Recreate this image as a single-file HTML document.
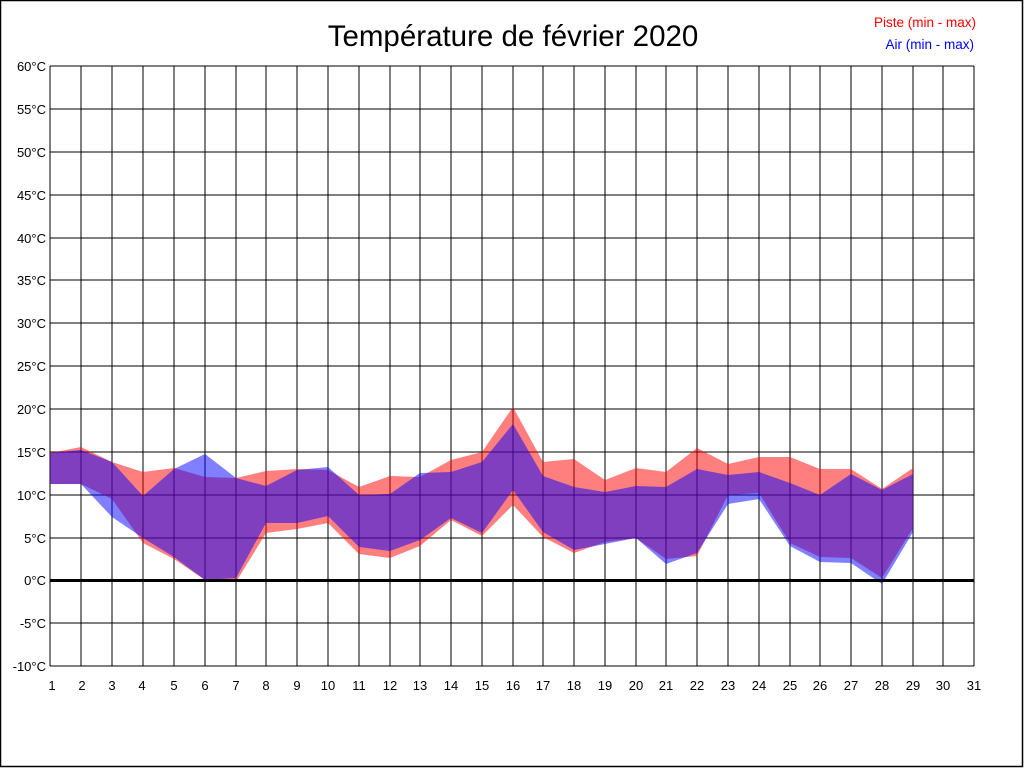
<!DOCTYPE html>
<html><head><meta charset="utf-8"><style>
html,body{margin:0;padding:0;background:#fff;}
svg{display:block;font-family:"Liberation Sans",Arial,sans-serif;}
</style></head><body>
<svg width="1024" height="768" viewBox="0 0 1024 768" xmlns="http://www.w3.org/2000/svg">
<rect x="0.5" y="0.5" width="1022" height="766" fill="#fff" stroke="#000" stroke-width="1.5"/>
<text x="513" y="46" font-size="29.5" text-anchor="middle" fill="#000">Température de février 2020</text>
<text x="976" y="27" font-size="13.5" text-anchor="end" fill="#f00">Piste (min - max)</text>
<text x="974" y="49" font-size="13.5" text-anchor="end" fill="#00f">Air (min - max)</text>
<g stroke="#000" stroke-width="1" shape-rendering="crispEdges">
<line x1="50" y1="66" x2="974" y2="66"/><line x1="50" y1="109" x2="974" y2="109"/><line x1="50" y1="152" x2="974" y2="152"/><line x1="50" y1="195" x2="974" y2="195"/><line x1="50" y1="238" x2="974" y2="238"/><line x1="50" y1="280" x2="974" y2="280"/><line x1="50" y1="323" x2="974" y2="323"/><line x1="50" y1="366" x2="974" y2="366"/><line x1="50" y1="409" x2="974" y2="409"/><line x1="50" y1="452" x2="974" y2="452"/><line x1="50" y1="495" x2="974" y2="495"/><line x1="50" y1="538" x2="974" y2="538"/><line x1="50" y1="623" x2="974" y2="623"/><line x1="50" y1="666" x2="974" y2="666"/>
<line x1="50" y1="66" x2="50" y2="666"/><line x1="81" y1="66" x2="81" y2="666"/><line x1="112" y1="66" x2="112" y2="666"/><line x1="143" y1="66" x2="143" y2="666"/><line x1="174" y1="66" x2="174" y2="666"/><line x1="205" y1="66" x2="205" y2="666"/><line x1="236" y1="66" x2="236" y2="666"/><line x1="266" y1="66" x2="266" y2="666"/><line x1="297" y1="66" x2="297" y2="666"/><line x1="328" y1="66" x2="328" y2="666"/><line x1="359" y1="66" x2="359" y2="666"/><line x1="390" y1="66" x2="390" y2="666"/><line x1="420" y1="66" x2="420" y2="666"/><line x1="451" y1="66" x2="451" y2="666"/><line x1="482" y1="66" x2="482" y2="666"/><line x1="513" y1="66" x2="513" y2="666"/><line x1="543" y1="66" x2="543" y2="666"/><line x1="574" y1="66" x2="574" y2="666"/><line x1="605" y1="66" x2="605" y2="666"/><line x1="636" y1="66" x2="636" y2="666"/><line x1="666" y1="66" x2="666" y2="666"/><line x1="697" y1="66" x2="697" y2="666"/><line x1="728" y1="66" x2="728" y2="666"/><line x1="759" y1="66" x2="759" y2="666"/><line x1="790" y1="66" x2="790" y2="666"/><line x1="820" y1="66" x2="820" y2="666"/><line x1="851" y1="66" x2="851" y2="666"/><line x1="882" y1="66" x2="882" y2="666"/><line x1="913" y1="66" x2="913" y2="666"/><line x1="943" y1="66" x2="943" y2="666"/><line x1="974" y1="66" x2="974" y2="666"/>
</g>
<polygon fill="#f00" fill-opacity="0.5" points="50,453 81,447 112,462 143,472 174,468 205,477 236,478 266,471 297,469 328,470 359,487 390,476 420,477 451,460 482,452 513,407 543,462 574,459 605,480 636,468 666,472 697,448 728,464 759,457 790,457 820,469 851,469 882,489 913,468 913,528 882,578 851,558 820,557 790,543 759,493 728,495 697,556 666,559 636,538 605,542 574,553 543,537 513,505 482,536 451,520 420,546 390,558 359,554 328,523 297,529 266,533 236,582 205,580 174,559 143,543 112,499 81,484 50,484"/>
<polygon fill="#00f" fill-opacity="0.5" points="50,453 81,450 112,462 143,496 174,469 205,454 236,478 266,486 297,470 328,467 359,495 390,494 420,473 451,472 482,462 513,424 543,476 574,487 605,492 636,486 666,487 697,469 728,475 759,472 790,483 820,495 851,474 882,490 913,474 913,532 882,584 851,563 820,562 790,546 759,499 728,504 697,553 666,564 636,538 605,544 574,550 543,532 513,490 482,533 451,518 420,540 390,551 359,547 328,516 297,523 266,523 236,578 205,580 174,557 143,538 112,517 81,484 50,484"/>
<line x1="50" y1="580.5" x2="974" y2="580.5" stroke="#000" stroke-width="3"/>
<g font-size="13" fill="#000" text-anchor="end">
<text x="46" y="71">60°C</text><text x="46" y="114">55°C</text><text x="46" y="157">50°C</text><text x="46" y="200">45°C</text><text x="46" y="243">40°C</text><text x="46" y="285">35°C</text><text x="46" y="328">30°C</text><text x="46" y="371">25°C</text><text x="46" y="414">20°C</text><text x="46" y="457">15°C</text><text x="46" y="500">10°C</text><text x="46" y="543">5°C</text><text x="46" y="585">0°C</text><text x="46" y="628">-5°C</text><text x="46" y="671">-10°C</text>
</g>
<g font-size="13" fill="#000" text-anchor="middle">
<text x="52" y="690">1</text><text x="82" y="690">2</text><text x="112" y="690">3</text><text x="142" y="690">4</text><text x="174" y="690">5</text><text x="205" y="690">6</text><text x="236" y="690">7</text><text x="266" y="690">8</text><text x="297" y="690">9</text><text x="328" y="690">10</text><text x="359" y="690">11</text><text x="390" y="690">12</text><text x="420" y="690">13</text><text x="451" y="690">14</text><text x="482" y="690">15</text><text x="513" y="690">16</text><text x="543" y="690">17</text><text x="574" y="690">18</text><text x="605" y="690">19</text><text x="636" y="690">20</text><text x="666" y="690">21</text><text x="697" y="690">22</text><text x="728" y="690">23</text><text x="759" y="690">24</text><text x="790" y="690">25</text><text x="820" y="690">26</text><text x="851" y="690">27</text><text x="882" y="690">28</text><text x="913" y="690">29</text><text x="943" y="690">30</text><text x="974" y="690">31</text>
</g>
</svg>
</body></html>
